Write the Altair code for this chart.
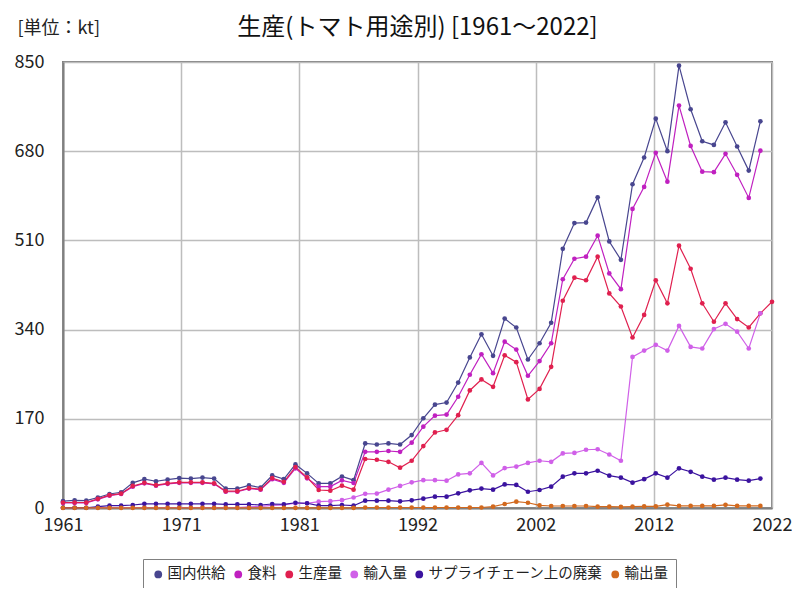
import altair as alt
import pandas as pd

YEARS = list(range(1961, 2022))
YEARS_PROD = list(range(1961, 2023))

SUPPLY = [13, 14.6, 14, 20, 26.7, 30, 48, 55, 51, 54,
          57, 56, 58, 56, 37, 37, 43, 39, 62, 55,
          83, 66, 47, 47, 60, 53, 123, 121, 123, 121,
          139, 171, 197, 201, 239, 287, 331, 290, 361, 344,
          283, 314, 353, 494, 543, 544, 592, 508, 473, 617,
          668, 742, 680, 843, 760, 699, 692, 735, 689, 643, 737]
FOOD = [9.5, 9.5, 9.5, 16.5, 23.5, 26.7, 40.7, 47, 42.5, 46,
        48, 48, 48, 46, 31, 31, 37, 35, 55, 48,
        75.6, 56.6, 40.7, 40.7, 52.7, 47.6, 107, 107, 108.6, 107,
        124.5, 155, 176, 178, 212, 254, 293, 257, 317, 302,
        252, 280, 314, 436, 475, 479, 519, 447, 417, 570,
        612, 677, 622, 767, 690, 641, 640, 675, 635, 591, 681]
PRODUCTION = [10.5, 10.5, 10.5, 17.5, 24.5, 27.5, 42, 48, 43.5, 47,
              49, 49, 49, 47, 32, 32, 38, 36, 57, 50,
              78, 58.4, 34.3, 33, 42.5, 35, 93.4, 92, 88, 76.8,
              90, 118, 144, 149, 177, 224, 245, 231, 291, 278,
              207, 227, 269, 395, 439, 434, 479, 409, 384, 325,
              368, 434, 390, 500, 456, 390, 355, 390, 360, 344, 371, 393]
IMPORT = [0.5, 0.5, 0.5, 0.5, 1, 1, 1, 1, 1, 1,
          1, 1, 1, 1, 1, 1, 2, 3, 5, 6,
          9, 9, 12, 13, 15, 20, 27, 27.5, 35, 42,
          49, 53, 53, 52, 64, 66, 86, 62, 76, 79,
          86, 90, 88, 104, 105, 111, 112, 102, 90, 288,
          300, 311, 300, 347, 307, 304, 341, 351, 336, 304, 371]
WASTE = [0.5, 0.5, 0.5, 2.5, 4.4, 4.4, 5.7, 8, 8, 8,
         8, 8, 8, 8, 7, 7, 7, 5.7, 7.6, 7,
         10, 9, 4.4, 4.4, 5.7, 4.4, 14, 14, 14, 12.7,
         14.6, 17.8, 21.6, 21.6, 28, 33.7, 37, 35, 45, 44,
         31, 34.3, 40.7, 59.7, 66, 66, 71, 61.6, 57.8, 48.3,
         55, 66, 57.8, 75.6, 69, 59.7, 54, 57.8, 54, 52, 56]
EXPORT = [0.3, 0.3, 0.3, 0.3, 0.3, 0.3, 0.3, 0.3, 0.3, 0.3,
          0.3, 0.3, 0.3, 0.3, 0.3, 0.3, 0.3, 0.3, 0.3, 0.3,
          0.3, 0.3, 0.3, 0.3, 0.3, 0.3, 1, 1, 1, 1,
          1, 1, 1, 1, 1, 1, 1, 2.5, 7.6, 12,
          10, 5, 3.8, 3.8, 3.8, 3.8, 2.5, 2.5, 2, 2.5,
          3, 3, 6.4, 4, 4, 4, 4, 6, 4, 4, 4]

SERIES = ["国内供給", "食料", "生産量", "輸入量", "サプライチェーン上の廃棄", "輸出量"]
COLORS = ["#48468f", "#c020c0", "#e0204f", "#d060e8", "#3b139f", "#d2691e"]

X_TICKS = [1961, 1961 + 61 / 6, 1961 + 122 / 6, 1961 + 183 / 6,
           1961 + 244 / 6, 1961 + 305 / 6, 2022]
Y_TICKS = [0, 170, 340, 510, 680, 850]

TITLE = "生産(トマト用途別) [1961～2022]"
UNIT = "[単位：kt]"

rows = []
for name, vals, yrs in [
    (SERIES[0], SUPPLY, YEARS),
    (SERIES[1], FOOD, YEARS),
    (SERIES[2], PRODUCTION, YEARS_PROD),
    (SERIES[3], IMPORT, YEARS),
    (SERIES[4], WASTE, YEARS),
    (SERIES[5], EXPORT, YEARS),
]:
    for y, v in zip(yrs, vals):
        rows.append({"year": y, "value": v, "series": name})
df = pd.DataFrame(rows)

FONT = "'Liberation Sans Narrow', 'Noto Sans CJK JP', sans-serif"

x_enc = alt.X(
    "year:Q",
    scale=alt.Scale(domain=[1961, 2022], nice=False, zero=False),
    axis=alt.Axis(values=X_TICKS, labelExpr="'' + round(datum.value)", title=None,
                  grid=True, ticks=False, labelFontSize=18, labelPadding=8,
                  labelFont=FONT, labelColor="#222", domainColor="#808080",
                  domainWidth=2, gridColor="#bdbdbd", gridWidth=1.5,
                  labelFlush=False),
)
y_enc = alt.Y(
    "value:Q",
    scale=alt.Scale(domain=[0, 850], nice=False),
    axis=alt.Axis(values=Y_TICKS, title=UNIT, titleAngle=0, titleX=-46, titleY=-34,
                  titleAlign="left", titleBaseline="middle", titleFontSize=18,
                  titleFontWeight="normal", titleFont=FONT, titleColor="#222",
                  grid=True, ticks=False, labelFontSize=18, labelPadding=19,
                  labelFont=FONT, labelColor="#222", domainColor="#808080",
                  domainWidth=2, gridColor="#bdbdbd", gridWidth=1.5),
)

color_scale = alt.Scale(domain=SERIES, range=COLORS)

lines = alt.Chart(df).mark_line(strokeWidth=1.2).encode(
    x=x_enc, y=y_enc,
    color=alt.Color("series:N", scale=color_scale, sort=SERIES, legend=None),
)
points = alt.Chart(df).mark_circle(size=22, opacity=1).encode(
    x=x_enc, y=y_enc,
    color=alt.Color("series:N", scale=color_scale, sort=SERIES,
                    legend=alt.Legend(title=None, orient="none", legendX=80, legendY=497,
                                      direction="horizontal", columns=6,
                                      symbolType="circle", symbolSize=60,
                                      labelFontSize=14.5, labelFont=FONT, labelLimit=0,
                                      labelColor="#222", columnPadding=5,
                                      labelOffset=2, padding=8,
                                      strokeColor="#808080", fillColor="white")),
)

chart = alt.layer(lines, points).resolve_legend(color="independent").properties(
    width=709,
    height=446,
    title=alt.TitleParams(TITLE, fontSize=24, font=FONT, fontWeight="normal",
                          anchor="middle", offset=-21, color="#111"),
    autosize=alt.AutoSizeParams(type="none"),
    padding={"left": 55, "top": 54, "right": 20, "bottom": 80},
).configure_view(stroke="#808080", strokeWidth=2)

chart.save("out.html", embed_options={"renderer": "svg", "actions": False})
